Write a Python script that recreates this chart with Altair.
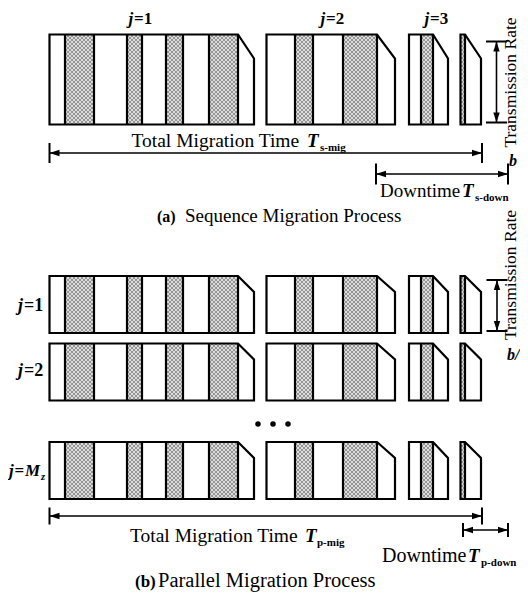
import altair as alt
import pandas as pd

# ---------------- values ----------------
# migration rounds (blocks): start time, segment durations, hatched flags, chamfered tail
BLOCK_START = [49.5, 266.5, 409.0, 460.5]
BLOCK_SEGS = [[15.5, 29, 33, 15, 24, 17, 26, 29], [28.5, 18, 30, 34], [12, 12], [4.5]]
BLOCK_HATCH = [[0, 1, 0, 1, 0, 1, 0, 1], [0, 1, 0, 1], [0, 1], [1]]
BLOCK_TAIL = [16, 18, 15, 16]
# rows: (a) sequence row, (b) j=1, j=2, j=Mz
ROW_TOP = [34.5, 276, 343.5, 442]
ROW_BOTTOM = [124.5, 333, 400.5, 499]
ROW_DROP = [24, 16, 16, 16]

# horizontal double arrows: y, x start, x end, tick half-height
H_ARROWS = [(153, 49.5, 482, 10), (174, 376, 508, 10.5), (516, 49.5, 482, 8.5), (530, 463, 508, 7)]
# vertical double arrows: x, y top, y bottom, tick half-width
V_ARROWS = [(496.5, 41.5, 122.5, 10.5), (497, 280, 331, 10.5)]

DOTS_X = [258, 273, 288]
DOTS_Y = [424, 424, 424]

HATCH_STEP = 4.0  # cross-hatch texture spacing

FONT = "Liberation Serif"

# ---------------- build tables ----------------
seg_rows, div_rows, outline_rows = [], [], []
for r, (top, bot, drop) in enumerate(zip(ROW_TOP, ROW_BOTTOM, ROW_DROP)):
    for b, (x0, segs, hatch, tail) in enumerate(zip(BLOCK_START, BLOCK_SEGS, BLOCK_HATCH, BLOCK_TAIL)):
        x = x0
        for w, h in zip(segs, hatch):
            if h:
                seg_rows.append(dict(x=x, x2=x + w, y=top, y2=bot))
            x += w
            div_rows.append(dict(x=x, x2=x, y=top, y2=bot))
        xe = x + tail
        pts = [(x0, bot), (x0, top), (x, top), (xe, top + drop), (xe, bot), (x0, bot), (x0, top)]
        for i, (px, py) in enumerate(pts):
            outline_rows.append(dict(block=f"{r}-{b}", i=i, x=px, y=py))

# cross-hatch texture lines clipped to each hatched segment
hatch_rows = []
for s in seg_rows:
    x0, x1, y0, y1 = s["x"], s["x2"], s["y"], s["y2"]
    k = int((x0 - y1) // HATCH_STEP) - 1
    while True:
        c = k * HATCH_STEP
        if c > x1 - y0:
            break
        a, bb = max(x0, y0 + c), min(x1, y1 + c)          # lines x - y = c
        if bb > a:
            hatch_rows.append(dict(x=a, y=a - c, x2=bb, y2=bb - c))
        k += 1
    k = int((x0 + y0) // HATCH_STEP) - 1
    while True:
        c = k * HATCH_STEP
        if c > x1 + y1:
            break
        a, bb = max(x0, c - y1), min(x1, c - y0)          # lines x + y = c
        if bb > a:
            hatch_rows.append(dict(x=a, y=c - a, x2=bb, y2=c - bb))
        k += 1

shaft_rows, tick_rows, head_rows = [], [], []
for y, xa, xb, th in H_ARROWS:
    shaft_rows.append(dict(x=xa, x2=xb, y=y, y2=y))
    tick_rows.append(dict(x=xa, x2=xa, y=y - th, y2=y + th))
    tick_rows.append(dict(x=xb, x2=xb, y=y - th, y2=y + th))
    head_rows.append(dict(x=xa, y=y, d="L"))
    head_rows.append(dict(x=xb, y=y, d="R"))
for x, ya, yb, tw in V_ARROWS:
    shaft_rows.append(dict(x=x, x2=x, y=ya, y2=yb))
    tick_rows.append(dict(x=x - tw, x2=x + tw, y=ya, y2=ya))
    tick_rows.append(dict(x=x - tw, x2=x + tw, y=yb, y2=yb))
    head_rows.append(dict(x=x, y=ya, d="U"))
    head_rows.append(dict(x=x, y=yb, d="D"))

XS = alt.Scale(domain=[8, 520], nice=False, zero=False)
YS = alt.Scale(domain=[8, 593], nice=False, zero=False, reverse=True)


def X(f="x"):
    return alt.X(f"{f}:Q", scale=XS, axis=None)


def Y(f="y"):
    return alt.Y(f"{f}:Q", scale=YS, axis=None)


hatched = alt.Chart(pd.DataFrame(seg_rows)).mark_rect(fill="#dcdcdc", stroke=None).encode(
    x=X(), x2="x2:Q", y=Y(), y2="y2:Q")
texture = alt.Chart(pd.DataFrame(hatch_rows)).mark_rule(color="#8c8c8c", strokeWidth=0.9).encode(
    x=X(), x2="x2:Q", y=Y(), y2="y2:Q")

dividers = alt.Chart(pd.DataFrame(div_rows)).mark_rule(color="black", strokeWidth=2.2).encode(
    x=X(), x2="x2:Q", y=Y(), y2="y2:Q")

outlines = alt.Chart(pd.DataFrame(outline_rows)).mark_line(
    color="black", strokeWidth=2.2, strokeJoin="miter").encode(
    x=X(), y=Y(), detail="block:N", order="i:Q")

shafts = alt.Chart(pd.DataFrame(shaft_rows)).mark_rule(color="black", strokeWidth=1.6).encode(
    x=X(), x2="x2:Q", y=Y(), y2="y2:Q")
ticks = alt.Chart(pd.DataFrame(tick_rows)).mark_rule(color="black", strokeWidth=2.0).encode(
    x=X(), x2="x2:Q", y=Y(), y2="y2:Q")

HEAD_PATHS = {
    "L": "M0,0L1,-0.32L1,0.32Z",
    "R": "M0,0L-1,-0.32L-1,0.32Z",
    "U": "M0,0L-0.32,1L0.32,1Z",
    "D": "M0,0L-0.32,-1L0.32,-1Z",
}
heads = alt.Chart(pd.DataFrame(head_rows)).mark_point(
    filled=True, color="black", opacity=1, size=400, strokeWidth=0).encode(
    x=X(), y=Y(),
    shape=alt.Shape("d:N", scale=alt.Scale(domain=list(HEAD_PATHS), range=list(HEAD_PATHS.values())), legend=None))

dots = alt.Chart(pd.DataFrame(dict(x=DOTS_X, y=DOTS_Y))).mark_point(
    filled=True, color="black", opacity=1, size=30, shape="circle").encode(x=X(), y=Y())


def texts(items, weight="normal", style="normal", align="left", angle=0, baseline="alphabetic"):
    df = pd.DataFrame(items, columns=["x", "y", "t", "s"])
    return alt.Chart(df).mark_text(
        font=FONT, fontWeight=weight, fontStyle=style, align=align, baseline=baseline,
        angle=angle, color="black").encode(
        x=X(), y=Y(), text="t:N", size=alt.Size("s:Q", scale=None, legend=None))


regular = texts([
    (131.5, 147, "Total Migration Time", 19.5),
    (380, 197, "Downtime", 19),
    (185, 222, "Sequence Migration Process", 19),
    (130, 542, "Total Migration Time", 19.5),
    (382, 562, "Downtime", 20),
    (158, 587, "Parallel Migration Process", 20.5),
])
bold = texts([
    (157, 222, "(a)", 16),
    (135, 587, "(b)", 17),
    (134, 24, "=1", 17), (326, 24, "=2", 17), (430, 24, "=3", 17),
    (24, 311, "=1", 18), (24, 376, "=2", 18), (14.5, 476, "=", 17),
    (320, 151, "s-mig", 11), (475, 201, "s-down", 11),
    (317, 546, "p-mig", 11), (481, 566, "p-down", 11),
], weight="bold")
bold_italic = texts([
    (307, 147, "T", 19), (462, 197, "T", 19), (305, 542, "T", 19), (468, 562, "T", 19),
    (128.5, 24, "j", 17), (320.5, 24, "j", 17), (424.5, 24, "j", 17),
    (18, 311, "j", 18), (18, 376, "j", 18), (9, 476, "j", 17), (25, 476, "M", 17),
    (509, 166, "b", 16), (507, 360, "b/", 16),
], weight="bold", style="italic")
sub_italic = texts([(41, 480, "z", 10.5)], weight="bold", style="italic")
rotated = texts([
    (516, 82.5, "Transmission Rate", 17.5),
    (516, 275, "Transmission Rate", 17.5),
], align="center", angle=270)

chart = alt.layer(
    hatched, texture, dividers, outlines, shafts, ticks, heads, dots,
    regular, bold, bold_italic, sub_italic, rotated,
).properties(
    width=512, height=585, padding=0, autosize=alt.AutoSizeParams(type="none"),
    background="white",
).configure_view(stroke=None)

chart.save("out.html", embed_options={"renderer": "svg", "actions": False})
